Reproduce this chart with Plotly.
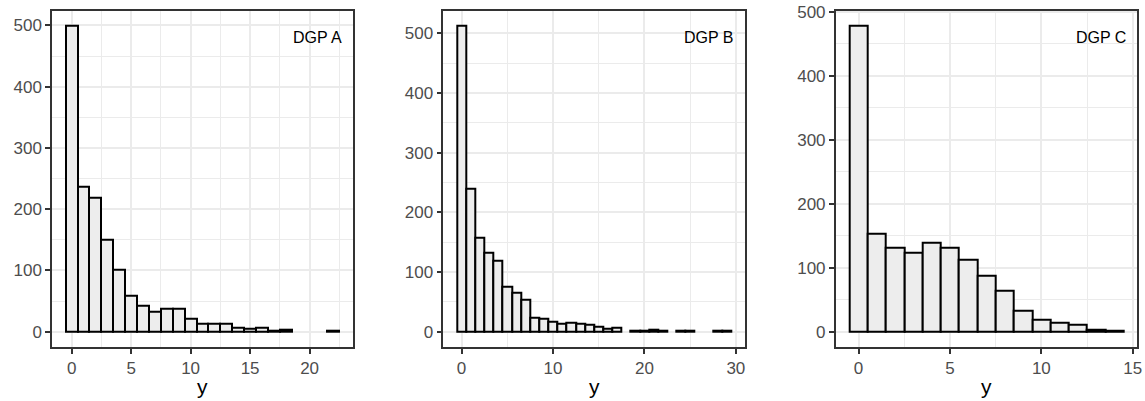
import plotly.graph_objects as go

# ---- data (counts per integer value of y) ----
bins_a = list(range(0, 23))
counts_a = [499, 236, 219, 151, 101, 59, 43, 33, 38, 38, 22, 13, 13, 13, 6, 5, 7, 1, 3, 0, 0, 0, 1]

bins_b = list(range(0, 30))
counts_b = [512, 240, 158, 133, 119, 75, 65, 54, 23, 21, 17, 14, 15, 14, 11, 8, 5, 6,
            0, 1, 1, 3, 2, 0, 1, 1, 0, 0, 1, 1]

bins_c = list(range(0, 15))
counts_c = [478, 153, 132, 123, 139, 132, 113, 87, 64, 33, 19, 14, 11, 3, 1]

labels = ["DGP A", "DGP B", "DGP C"]
x_dticks = [5, 10, 5]
x_title = "y"

W, H = 1145, 401
panels_px = [(52, 353), (443.3, 745), (835.7, 1137.3)]
top_px, bot_px = 10.7, 347


def fx(px):
    return px / W


def fy(py):
    return 1 - py / H


ydom = [fy(bot_px), fy(top_px)]

FONT = "Liberation Sans, Arial, Helvetica, sans-serif"
GRID = "#EBEBEB"
BORDER = "#333333"

fig = go.Figure()
datasets = [(bins_a, counts_a), (bins_b, counts_b), (bins_c, counts_c)]

for i, ((bins, counts), lab, dt, (px0, px1)) in enumerate(zip(datasets, labels, x_dticks, panels_px)):
    k = "" if i == 0 else str(i + 1)
    xs = [b for b, c in zip(bins, counts) if c > 0]
    ys = [c for c in counts if c > 0]
    fig.add_trace(go.Bar(
        x=xs, y=ys, width=1.0,
        marker=dict(color="#EDEDED", line=dict(color="black", width=2)),
        xaxis="x" + k, yaxis="y" + k, showlegend=False, hoverinfo="x+y",
    ))
    xlo, xhi = min(bins) - 0.5, max(bins) + 0.5
    xpad = 0.05 * (xhi - xlo)
    ymax = max(counts)
    ypad = 0.05 * ymax
    common = dict(
        showline=True, mirror=True, linecolor=BORDER, linewidth=1.5,
        ticks="outside", ticklen=5, tickwidth=1.5, tickcolor=BORDER,
        tickfont=dict(family=FONT, size=17, color="#4D4D4D"),
        showgrid=True, gridcolor=GRID, gridwidth=1.6, zeroline=False,
        automargin=False, ticklabeloverflow="allow",
    )
    fig.layout["xaxis" + k] = dict(
        common, domain=[fx(px0), fx(px1)], anchor="y" + k,
        range=[xlo - xpad, xhi + xpad], tick0=0, dtick=dt,
        minor=dict(tick0=0, dtick=dt / 2, showgrid=True, gridcolor=GRID, gridwidth=0.8, ticks=""),
    )
    fig.layout["yaxis" + k] = dict(
        common, domain=ydom, anchor="x" + k,
        range=[-ypad, ymax + ypad], tick0=0, dtick=100,
        minor=dict(tick0=0, dtick=50, showgrid=True, gridcolor=GRID, gridwidth=0.8, ticks=""),
    )
    fig.add_annotation(
        text=lab, xref=("x" + k + " domain"), yref="paper",
        x=1, y=fy(38), xanchor="right", yanchor="middle", xshift=-9,
        showarrow=False, font=dict(family=FONT, size=16, color="black"),
    )
    fig.add_annotation(
        text=x_title, xref=("x" + k + " domain"), yref="paper",
        x=0.5, y=fy(386), xanchor="center", yanchor="middle",
        showarrow=False, font=dict(family=FONT, size=21, color="black"),
    )

fig.update_layout(
    width=W, height=H, margin=dict(l=0, r=0, t=0, b=0),
    paper_bgcolor="white", plot_bgcolor="white", bargap=0,
    font=dict(family=FONT),
)
fig.write_html("out.html", config={"displayModeBar": False},
               post_script="document.body.style.margin='0px';")
